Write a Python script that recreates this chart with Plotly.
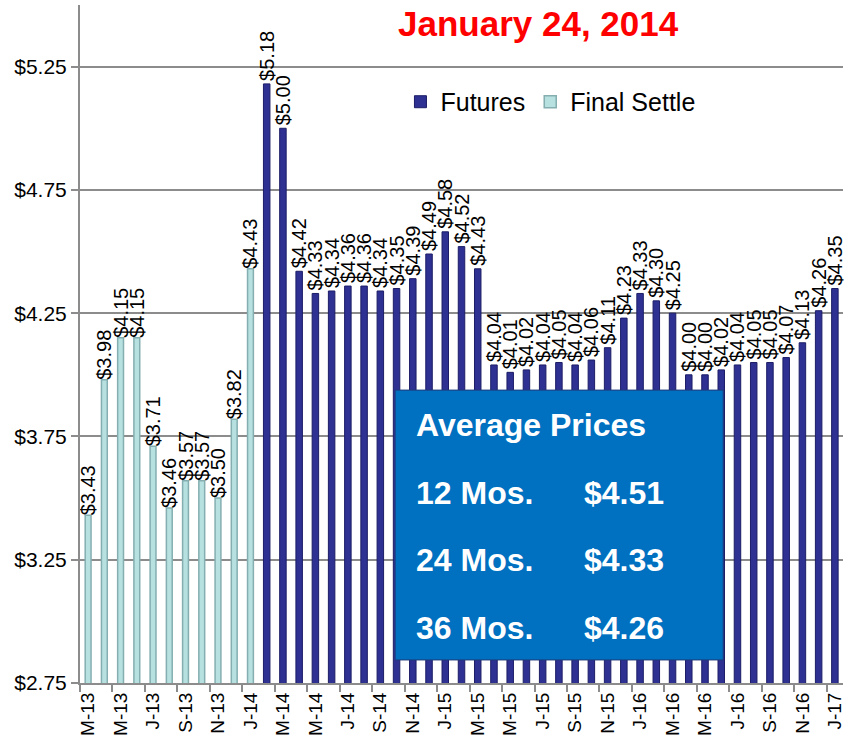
import plotly.graph_objects as go

# monthly contracts, Mar-13 .. Jan-17
months = ['M-13', 'A-13', 'M-13', 'J-13', 'J-13', 'A-13', 'S-13', 'O-13', 'N-13', 'D-13',
          'J-14', 'F-14', 'M-14', 'A-14', 'M-14', 'J-14', 'J-14', 'A-14', 'S-14', 'O-14',
          'N-14', 'D-14', 'J-15', 'F-15', 'M-15', 'A-15', 'M-15', 'J-15', 'J-15', 'A-15',
          'S-15', 'O-15', 'N-15', 'D-15', 'J-16', 'F-16', 'M-16', 'A-16', 'M-16', 'J-16',
          'J-16', 'A-16', 'S-16', 'O-16', 'N-16', 'D-16', 'J-17']

final_settle = [3.43, 3.98, 4.15, 4.15, 3.71, 3.46, 3.57, 3.57, 3.50, 3.82, 4.43]

futures = [5.18, 5.00, 4.42, 4.33, 4.34, 4.36, 4.36, 4.34, 4.35, 4.39, 4.49, 4.58,
           4.52, 4.43, 4.04, 4.01, 4.02, 4.04, 4.05, 4.04, 4.06, 4.11, 4.23, 4.33,
           4.30, 4.25, 4.00, 4.00, 4.02, 4.04, 4.05, 4.05, 4.07, 4.13, 4.26, 4.35]

avg_labels = ['12 Mos.', '24 Mos.', '36 Mos.']
avg_values = [4.51, 4.33, 4.26]

FONT = 'Liberation Sans, Arial, sans-serif'

n_settle = len(final_settle)
x_settle = list(range(n_settle))
x_fut = list(range(n_settle, n_settle + len(futures)))

fig = go.Figure()

fig.add_trace(go.Bar(
    x=x_fut, y=futures, name='Futures',
    marker=dict(color='#2E3192', line=dict(color='#1C1D66', width=1)),
    width=0.4,
    texttemplate='$%{y:.2f}', textposition='outside', textangle=-90,
    constraintext='none', cliponaxis=False,
    textfont=dict(family=FONT, size=20, color='black'),
))

fig.add_trace(go.Bar(
    x=x_settle, y=final_settle, name='Final Settle',
    marker=dict(color='#B7E0E0', line=dict(color='#84AEB0', width=1.5)),
    width=0.36,
    texttemplate='$%{y:.2f}', textposition='outside', textangle=-90,
    constraintext='none', cliponaxis=False,
    textfont=dict(family=FONT, size=20, color='black'),
))

# average prices box
fig.add_shape(type='rect', xref='paper', yref='paper',
              x0=0.413, x1=0.843, y0=0.034, y1=0.432,
              fillcolor='#0070C0', line=dict(color='#1F3A7A', width=1), layer='above')

annotations = [
    dict(text='January 24, 2014', x=0.601, y=0.972, xref='paper', yref='paper',
         xanchor='center', yanchor='middle', showarrow=False,
         font=dict(family=FONT, size=35, color='#FF0000', weight='bold')),
    dict(text='Average Prices', x=0.438, y=0.381, xref='paper', yref='paper',
         xanchor='left', yanchor='middle', showarrow=False,
         font=dict(family=FONT, size=32, color='white', weight='bold')),
]
ys = [0.280, 0.181, 0.081]
for lab, val, yy in zip(avg_labels, avg_values, ys):
    annotations.append(dict(text=lab, x=0.438, y=yy, xref='paper', yref='paper',
                            xanchor='left', yanchor='middle', showarrow=False,
                            font=dict(family=FONT, size=32, color='white', weight='bold')))
    annotations.append(dict(text='$%.2f' % val, x=0.658, y=yy, xref='paper', yref='paper',
                            xanchor='left', yanchor='middle', showarrow=False,
                            font=dict(family=FONT, size=32, color='white', weight='bold')))

fig.update_layout(
    width=845, height=748,
    margin=dict(l=80, r=0, t=5, b=65),
    plot_bgcolor='white', paper_bgcolor='white',
    barmode='overlay', bargap=0.6,
    font=dict(family=FONT, color='black'),
    showlegend=True,
    legend=dict(orientation='h', x=0.42, y=0.857, xanchor='left', yanchor='middle',
                font=dict(family=FONT, size=25), bgcolor='rgba(0,0,0,0)',
                traceorder='normal'),
    annotations=annotations,
    xaxis=dict(
        range=[-0.5, len(months) - 0.5],
        tickmode='array',
        tickvals=list(range(0, len(months), 2)),
        ticktext=months[::2],
        tickangle=-90,
        tickfont=dict(family=FONT, size=19),
        ticklabeloverflow='allow',
        ticks='',
        showgrid=False, zeroline=False,
        showline=True, linecolor='#8C8C8C', linewidth=2,
        minor=dict(tickmode='linear', tick0=-0.5, dtick=2, ticks='outside',
                   ticklen=7, tickwidth=2, tickcolor='#8C8C8C', showgrid=False),
    ),
    yaxis=dict(
        range=[2.75, 5.5],
        tickmode='linear', tick0=2.75, dtick=0.5,
        tickformat='$.2f',
        tickfont=dict(family=FONT, size=21),
        showgrid=True, gridcolor='#8C8C8C', gridwidth=2,
        zeroline=False,
        showline=True, linecolor='#8C8C8C', linewidth=2,
        ticks='outside', ticklen=7, tickwidth=2, tickcolor='#8C8C8C',
    ),
)

# the page body has a default 8px margin; remove it so the chart fills the window
fig.write_html('out.html', config={'displayModeBar': False},
               post_script="document.body.style.margin='0';")
